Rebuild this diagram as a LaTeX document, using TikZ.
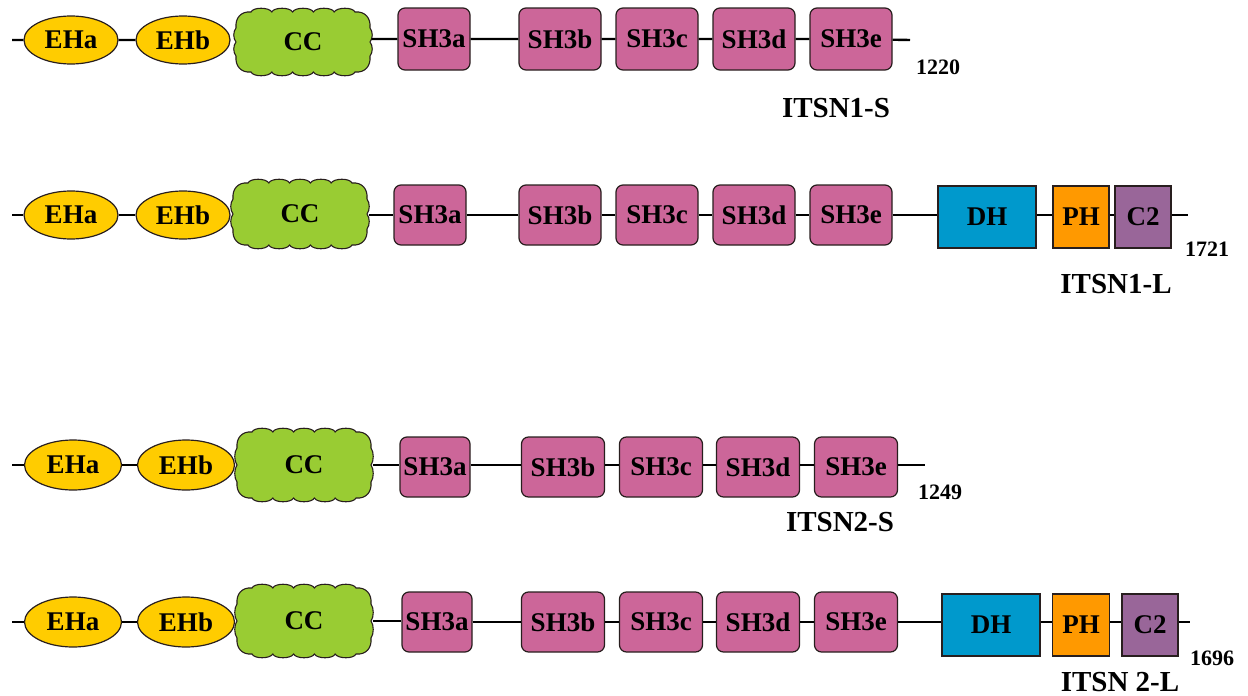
\documentclass[tikz,border=0pt]{standalone}
\usepackage{fontspec}
\setmainfont{Liberation Serif}
\usetikzlibrary{shapes.geometric}
\definecolor{ehyellow}{RGB}{255,204,0}
\definecolor{ccgreen}{RGB}{153,204,51}
\definecolor{shpink}{RGB}{204,102,153}
\definecolor{dhblue}{RGB}{0,153,204}
\definecolor{phorange}{RGB}{255,153,0}
\definecolor{ctwo}{RGB}{153,102,153}
\definecolor{edge}{RGB}{40,30,30}

\tikzset{
  dom/.style={draw=edge, line width=1.2pt, font=\fontsize{27}{29}\selectfont\bfseries, inner sep=0pt, text=black},
  eh/.style={dom, ellipse, fill=ehyellow, minimum width=94, minimum height=48},
  sh/.style={dom, rectangle, rounded corners=7pt, fill=shpink, minimum width=82, minimum height=62},
  dhbox/.style={dom, rectangle, fill=dhblue, minimum width=98, minimum height=62},
  phbox/.style={dom, rectangle, fill=phorange, minimum width=56, minimum height=62},
  ctbox/.style={dom, rectangle, fill=ctwo, minimum width=56, minimum height=62},
  cclabel/.style={dom, draw=none, rectangle, minimum width=136, minimum height=66},
  backbone/.style={line width=2.4pt, black},
  len/.style={font=\fontsize{22}{24}\selectfont\bfseries, inner sep=0pt},
  iso/.style={font=\fontsize{29}{31}\selectfont\bfseries, inner sep=0pt},
}

% scalloped coiled-coil outline, centred at (#1,#2), half height #3
\newcommand\ccblob[3]{%
  \begin{scope}[shift={(#1,#2)}]
    \filldraw[fill=ccgreen, draw=edge, line width=1.1pt]
      % top-left corner
      (-52,-#3) .. controls (-62,-#3-1) and (-68,-#3+6) .. (-67,-#3+16)
      % left side, two soft bulges
      .. controls (-70,-#3+20) and (-70,-4) .. (-67,0)
      .. controls (-70,4) and (-70,#3-20) .. (-67,#3-16)
      % bottom-left corner
      .. controls (-68,#3-6) and (-62,#3+1) .. (-52,#3)
      % bottom, five bumps
      .. controls (-50,#3+5) and (-34,#3+5) .. (-31.2,#3)
      .. controls (-29,#3+5) and (-13,#3+5) .. (-10.4,#3)
      .. controls (-8,#3+5) and (8,#3+5) .. (10.4,#3)
      .. controls (13,#3+5) and (29,#3+5) .. (31.2,#3)
      .. controls (34,#3+5) and (50,#3+5) .. (52,#3)
      % bottom-right corner
      .. controls (62,#3+1) and (68,#3-6) .. (67,#3-16)
      % right side
      .. controls (70,#3-20) and (70,4) .. (67,0)
      .. controls (70,-4) and (70,-#3+20) .. (67,-#3+16)
      % top-right corner
      .. controls (68,-#3+6) and (62,-#3-1) .. (52,-#3)
      % top, five bumps
      .. controls (50,-#3-5) and (34,-#3-5) .. (31.2,-#3)
      .. controls (29,-#3-5) and (13,-#3-5) .. (10.4,-#3)
      .. controls (8,-#3-5) and (-8,-#3-5) .. (-10.4,-#3)
      .. controls (-13,-#3-5) and (-29,-#3-5) .. (-31.2,-#3)
      .. controls (-34,-#3-5) and (-50,-#3-5) .. (-52,-#3) -- cycle;
  \end{scope}}

\begin{document}
\begin{tikzpicture}[x=1pt, y=-1pt]
\useasboundingbox (0,0) rectangle (1248,696);

% ---------------- ITSN1-S ----------------
\coordinate (s1) at (12,40);
\coordinate (e1) at (910,40);
\ccblob{303}{42}{30}
\node[eh] (a1) at (71,40) {EHa};
\node[eh] (b1) at (183,40) {EHb};
\node[cclabel] (c1) at (303,42) {CC};
\node[sh, minimum width=72] (sa1) at (434,39) {SH3a};
\node[sh] (sb1) at (560,39) {SH3b};
\node[sh] (sc1) at (657,39) {SH3c};
\node[sh] (sd1) at (754,39) {SH3d};
\node[sh] (se1) at (851,39) {SH3e};
\draw[backbone] (s1) -- (a1) (a1) -- (b1) (c1.east |- sa1) -- (sa1) (sa1) -- (sb1)
  (sb1) -- (sc1) (sc1) -- (sd1) (sd1) -- (se1) (se1) -- (e1);
\node[len] (n1) at (938,67) {1220};
\node[iso] (i1) at (836,108) {ITSN1-S};

% ---------------- ITSN1-L ----------------
\coordinate (s2) at (12,215);
\coordinate (e2) at (1188,215);
\ccblob{300}{214}{31}
\node[eh] (a2) at (71,215) {EHa};
\node[eh] (b2) at (183,215) {EHb};
\node[cclabel] (c2) at (300,214) {CC};
\node[sh, minimum width=72, minimum height=60] (sa2) at (430,215) {SH3a};
\node[sh, minimum height=60] (sb2) at (560,215) {SH3b};
\node[sh, minimum height=60] (sc2) at (657,215) {SH3c};
\node[sh, minimum height=60] (sd2) at (754,215) {SH3d};
\node[sh, minimum height=60] (se2) at (851,215) {SH3e};
\node[dhbox] (dh2) at (987,217) {DH};
\node[phbox] (ph2) at (1081,217) {PH};
\node[ctbox] (ct2) at (1143,217) {C2};
\draw[backbone] (s2) -- (a2) (a2) -- (b2) (c2.east |- sa2) -- (sa2) (sa2) -- (sb2)
  (sb2) -- (sc2) (sc2) -- (sd2) (sd2) -- (se2) (se2) -- (se2 -| dh2.west)
  (ph2.west |- se2) -- (dh2.east |- se2) (ph2.east |- se2) -- (ct2.west |- se2)
  (ct2.east |- se2) -- (e2);
\node[len] (n2) at (1207,249) {1721};
\node[iso] (i2) at (1116,284) {ITSN1-L};

% ---------------- ITSN2-S ----------------
\coordinate (s3) at (12,465);
\coordinate (e3) at (925,465);
\ccblob{304}{465}{33}
\node[eh, minimum width=97, minimum height=50] (a3) at (73,465) {EHa};
\node[eh, minimum width=97, minimum height=50] (b3) at (186,465) {EHb};
\node[cclabel] (c3) at (304,465) {CC};
\node[sh, minimum width=70, minimum height=60] (sa3) at (435,467) {SH3a};
\node[sh, minimum width=83, minimum height=60] (sb3) at (563,467) {SH3b};
\node[sh, minimum width=83, minimum height=60] (sc3) at (661,467) {SH3c};
\node[sh, minimum width=83, minimum height=60] (sd3) at (758,467) {SH3d};
\node[sh, minimum width=83, minimum height=60] (se3) at (856,467) {SH3e};
\draw[backbone] (s3) -- (a3) (a3) -- (b3) (c3) -- (c3 -| sa3.west)
  (sa3.east |- c3) -- (sb3.west |- c3) (sb3.east |- c3) -- (sc3.west |- c3)
  (sc3.east |- c3) -- (sd3.west |- c3) (sd3.east |- c3) -- (se3.west |- c3)
  (se3.east |- c3) -- (e3);
\node[len] (n3) at (940,492) {1249};
\node[iso] (i3) at (840,522) {ITSN2-S};

% ---------------- ITSN2-L ----------------
\coordinate (s4) at (12,622);
\coordinate (e4) at (1190,622);
\ccblob{304}{621}{33}
\node[eh, minimum width=97, minimum height=50] (a4) at (73,622) {EHa};
\node[eh, minimum width=97, minimum height=50] (b4) at (186,622) {EHb};
\node[cclabel] (c4) at (304,621) {CC};
\node[sh, minimum width=70, minimum height=60] (sa4) at (437,622) {SH3a};
\node[sh, minimum width=83, minimum height=60] (sb4) at (563,622) {SH3b};
\node[sh, minimum width=83, minimum height=60] (sc4) at (661,622) {SH3c};
\node[sh, minimum width=83, minimum height=60] (sd4) at (758,622) {SH3d};
\node[sh, minimum width=83, minimum height=60] (se4) at (856,622) {SH3e};
\node[dhbox] (dh4) at (991,625) {DH};
\node[phbox, minimum width=57] (ph4) at (1081,625) {PH};
\node[ctbox] (ct4) at (1150,625) {C2};
\draw[backbone] (s4) -- (a4) (a4) -- (b4) (c4) -- (c4 -| sa4.west)
  (sa4) -- (sb4) (sb4) -- (sc4) (sc4) -- (sd4) (sd4) -- (se4)
  (se4) -- (se4 -| dh4.west)
  (ph4.west |- se4) -- (dh4.east |- se4) (ph4.east |- se4) -- (ct4.west |- se4)
  (ct4.east |- se4) -- (e4);
\node[len] (n4) at (1212,658) {1696};
\node[iso] (i4) at (1120,682) {ITSN 2-L};
\end{tikzpicture}
\end{document}
